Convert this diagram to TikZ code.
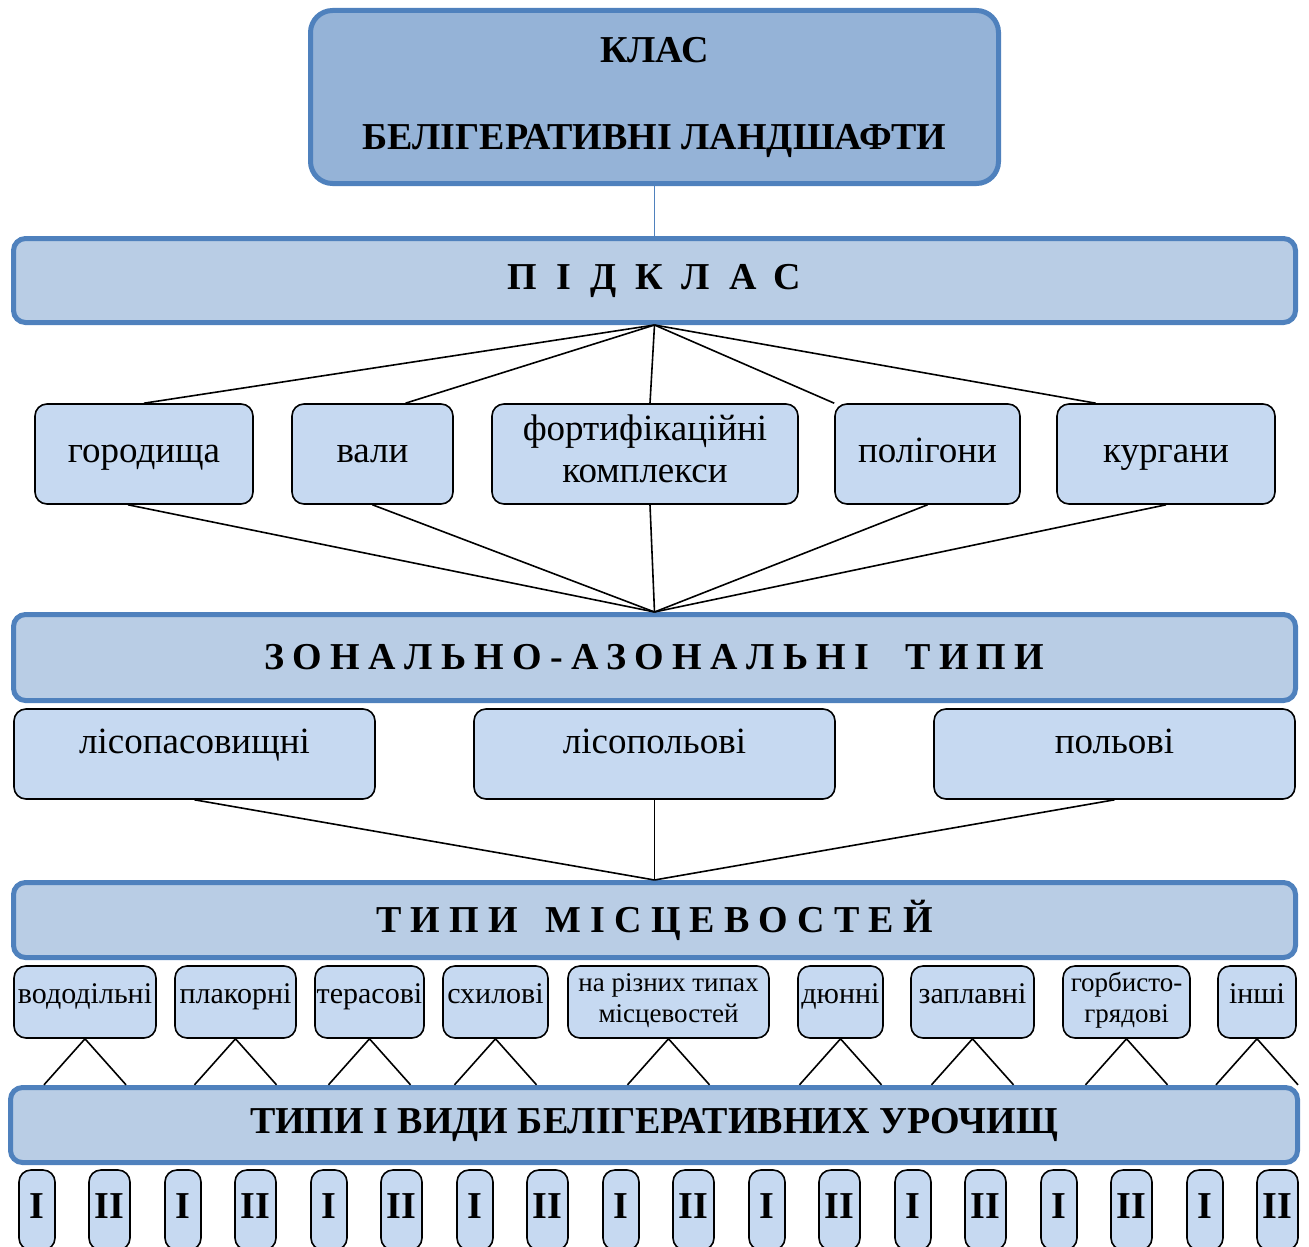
\documentclass[tikz,border=0pt]{standalone}
\usepackage{fontspec}
\setmainfont{Liberation Serif}
\usetikzlibrary{calc}
\definecolor{klasfill}{HTML}{95B3D7}
\definecolor{barfill}{HTML}{B9CDE5}
\definecolor{boxfill}{HTML}{C6D9F1}
\definecolor{barline}{HTML}{4F81BD}
\begin{document}
\begin{tikzpicture}[x=1pt,y=-1pt]
	\tikzset{klas/.style = {draw=barline,line width=5pt,fill=klasfill,rounded corners=22pt,inner sep=0pt,align=center,font=\fontsize{38}{44}\selectfont\bfseries}}
	\tikzset{bar/.style = {draw=barline,line width=5pt,fill=barfill,rounded corners=12pt,inner sep=0pt,minimum width=1282pt,font=\fontsize{38}{44}\selectfont\bfseries}}
	\tikzset{item/.style = {draw,line width=1.6pt,fill=boxfill,rounded corners=12pt,inner sep=0pt,align=center,text height=27pt,text depth=10pt,font=\fontsize{37}{42}\selectfont}}
	\tikzset{small/.style = {item,minimum height=72pt,text height=22pt,text depth=20pt,font=\fontsize{30}{31}\selectfont}}
	\tikzset{smalltwo/.style = {small,text height=55pt,text depth=15pt,font=\fontsize{27}{31}\selectfont}}
	\tikzset{roman/.style = {item,minimum height=80pt,font=\fontsize{38}{44}\selectfont\bfseries}}
	\tikzset{link/.style = {draw,line width=1.6pt}}
	\useasboundingbox (0,0) rectangle (1309,1247);
	\clip (0,0) rectangle (1309,1247);
	% class
	\node[klas,minimum width=688pt,minimum height=173pt] (klas) at (654.5,97) {КЛАС\\[43pt]БЕЛІГЕРАТИВНІ ЛАНДШАФТИ};
	\node[bar,minimum height=84pt] (pidklas) at (654.5,280.5) {\addfontfeatures{LetterSpace=50}ПІДКЛАС};
	\draw[barline,line width=1.5pt] (klas) -- (pidklas);
	% subclasses
	\node[item,minimum width=218pt,minimum height=100pt] (horodyshcha) at (144,454) {городища};
	\node[item,minimum width=161pt,minimum height=100pt] (valy) at (372.5,454) {вали};
	\node[item,minimum width=306pt,minimum height=100pt,text height=66pt] (fort) at (645,454) {фортифікаційні\\комплекси};
	\node[item,minimum width=185pt,minimum height=100pt] (polihony) at (927.5,454) {полігони};
	\node[item,minimum width=218pt,minimum height=100pt] (kurhany) at (1166,454) {кургани};
	\path[link] (pidklas.south) edge (horodyshcha.north)
		edge ($(valy.north)+(33,0)$)
		edge ($(fort.north)+(5,0)$)
		edge (polihony.north west)
		edge ($(kurhany.north west)!.18!(kurhany.north east)$);
	% zonal types
	\node[bar,minimum height=86pt] (zonal) at (654.5,657.5) {\addfontfeatures{LetterSpace=22}ЗОНАЛЬНО-АЗОНАЛЬНІ\hspace{36pt}ТИПИ};
	\draw[link] ($(horodyshcha.south)+(-16,0)$) -- (zonal.north);
	\draw[link] (valy.south) -- (zonal.north);
	\draw[link] ($(fort.south)+(5,0)$) -- (zonal.north);
	\draw[link] (polihony.south) -- (zonal.north);
	\draw[link] (kurhany.south) -- (zonal.north);
	\node[item,minimum width=361pt,minimum height=90pt,text depth=28pt] (lisopas) at (194.5,754) {лісопасовищні};
	\node[item,minimum width=361pt,minimum height=90pt,text depth=28pt] (lisopol) at (654.5,754) {лісопольові};
	\node[item,minimum width=361pt,minimum height=90pt,text depth=28pt] (polovi) at (1114.5,754) {польові};
	% terrain types
	\node[bar,minimum height=75pt] (typy) at (654.5,920) {\addfontfeatures{LetterSpace=24}ТИПИ\hspace{28pt}МІСЦЕВОСТЕЙ};
	\foreach \n in {lisopas,lisopol,polovi}
		\draw[link] (\n.south) -- (typy.north);
	\node[small,minimum width=142pt] (vododilni) at (85,1002) {вододільні};
	\node[small,minimum width=121pt] (plakorni) at (235.5,1002) {плакорні};
	\node[small,minimum width=109pt] (terasovi) at (369.5,1002) {терасові};
	\node[small,minimum width=105pt] (skhylovi) at (495.5,1002) {схилові};
	\node[smalltwo,minimum width=201pt] (rizni) at (668.5,1002) {на різних типах\\місцевостей};
	\node[small,minimum width=85pt] (diunni) at (840.5,1002) {дюнні};
	\node[small,minimum width=123pt] (zaplavni) at (972.5,1002) {заплавні};
	\node[smalltwo,minimum width=127pt] (horbysto) at (1126.5,1002) {горбисто-\\грядові};
	\node[small,minimum width=78pt] (inshi) at (1257,1002) {інші};
	% tracts
	\node[bar,minimum width=1287pt,minimum height=75pt] (urochyshcha) at (654,1125) {ТИПИ І ВИДИ БЕЛІГЕРАТИВНИХ УРОЧИЩ};
	\foreach \n in {vododilni,plakorni,terasovi,skhylovi,rizni,diunni,zaplavni,horbysto,inshi}
		\draw[link] ($(\n.south)+(-41,46)$) -- (\n.south) -- ($(\n.south)+(41,46)$);
	\foreach \k in {0,...,8} {
		\node[roman,minimum width=36pt] (r\k a) at ({37+146*\k},1210) {I};
		\node[roman,minimum width=41pt] (r\k b) at ({109.5+146*\k},1210) {II};
	}
\end{tikzpicture}
\end{document}
